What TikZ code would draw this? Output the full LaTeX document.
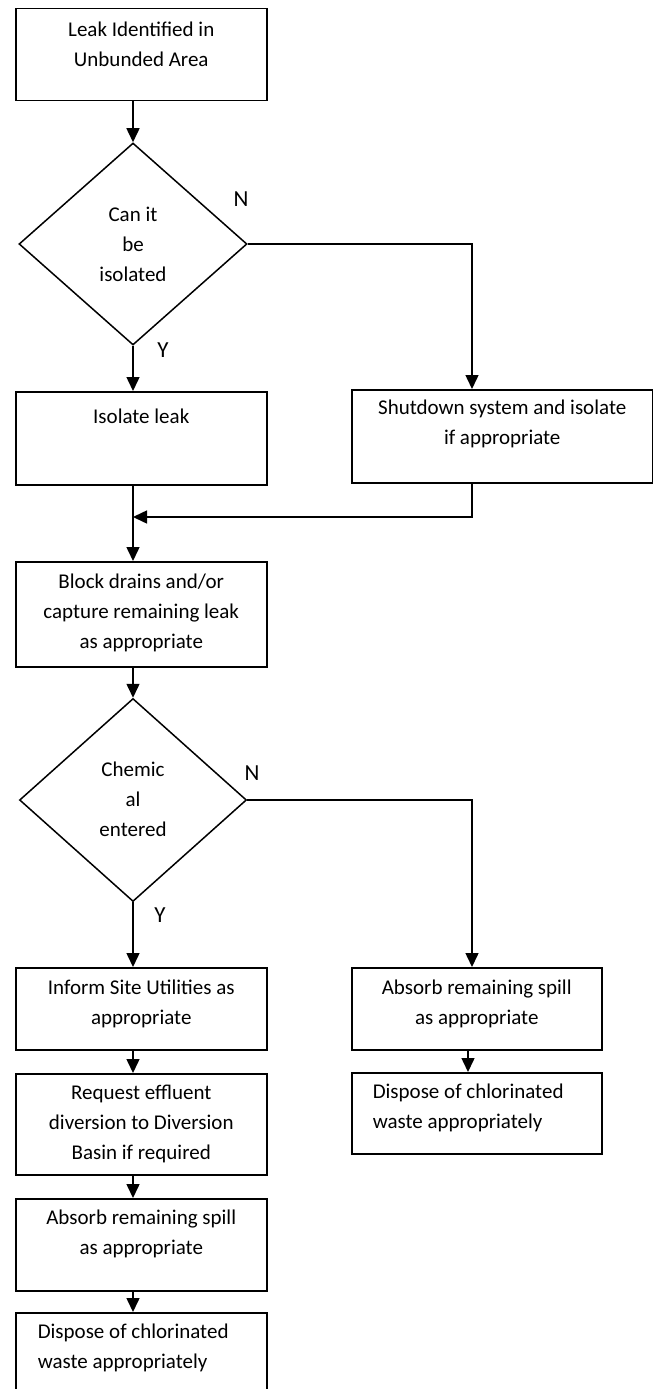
\documentclass[tikz,border=0pt]{standalone}
\usepackage{fontspec}
\setmainfont{Carlito}
\usetikzlibrary{arrows.meta,shapes.geometric}

\begin{document}
\begin{tikzpicture}[x=1bp,y=-1bp,
  line width=1.5bp,
  box/.style={draw, rectangle, inner sep=0pt, minimum width=251bp, anchor=north west},
  decision/.style={draw, diamond, inner sep=0pt},
  txt/.style={inner sep=0pt, align=center, anchor=north,
    font=\fontsize{21bp}{30bp}\selectfont, execute at begin node=\strut},
  ltxt/.style={txt, align=left, anchor=north west},
  yn/.style={inner sep=0pt, font=\fontsize{23bp}{28bp}\selectfont},
  arr/.style={-{Triangle[width=13bp,length=14bp]}},
]
\clip (0,0) rectangle (653,1389);

% column positions and junction
\coordinate (rcol) at (472,0);
\coordinate (rcolb) at (468,0);
\coordinate (merge) at (133,517);

% first stage
\node[box, minimum height=92bp] (b1) at (15,8) {};
\node[txt] (t1) at ([yshift=-13bp]b1.north) {Leak Identified in\\Unbunded Area};

\node[decision, minimum width=228bp, minimum height=202bp] (d1) at (133,244) {};
\node[txt] (t2) at ([yshift=38bp]d1.center) {Can it\\be\\isolated};
\node[yn] (n1) at (241,199) {N};
\node[yn] (y1) at (163,350) {Y};

\node[box, minimum height=93bp] (b2) at (15,391) {};
\node[txt] (t3) at ([yshift=-11bp]b2.north) {Isolate leak};

\node[box, minimum width=301bp, minimum height=93bp] (b3) at (351,389) {};
\node[txt] (t4) at ([yshift=-10bp]b3.north) {Shutdown system and isolate\\if appropriate};

\node[box, minimum height=105bp] (b4) at (15,561) {};
\node[txt] (t5) at ([yshift=-12bp]b4.north) {Block drains and/or\\capture remaining leak\\as appropriate};

% second decision
\node[decision, minimum width=227bp, minimum height=203bp] (d2) at (133,800) {};
\node[txt] (t6) at ([yshift=39bp]d2.center) {Chemic\\al\\entered};
\node[yn] (n2) at (252,773) {N};
\node[yn] (y2) at (160,915) {Y};

% left column
\node[box, minimum height=82bp] (b5) at (15,967) {};
\node[txt] (t7) at ([yshift=-12bp]b5.north) {Inform Site Utilities as\\appropriate};

\node[box, minimum height=101bp] (b6) at (15,1073) {};
\node[txt] (t8) at ([yshift=-11bp]b6.north) {Request effluent\\diversion to Diversion\\Basin if required};

\node[box, minimum height=92bp] (b7) at (15,1198) {};
\node[txt] (t9) at ([yshift=-11bp]b7.north) {Absorb remaining spill\\as appropriate};

\node[box, minimum height=100bp] (b8) at (15,1312) {};
\node[ltxt] (t10) at ([xshift=22bp,yshift=-11bp]b8.north west) {Dispose of chlorinated\\waste appropriately};

% right column
\node[box, minimum width=250bp, minimum height=82bp] (r1) at (351,967) {};
\node[txt] (t11) at ([yshift=-12bp]r1.north) {Absorb remaining spill\\as appropriate};

\node[box, minimum width=250bp, minimum height=81bp] (r2) at (351,1072) {};
\node[ltxt] (t12) at ([xshift=21bp,yshift=-11bp]r2.north west) {Dispose of chlorinated\\waste appropriately};

% connectors
\draw[arr] (b1.south -| d1.north) -- (d1.north);
\draw[arr] (d1.south) -- (d1.south |- b2.north);
\draw[arr] (d1.east) -| (rcol |- b3.north);
\draw[arr] (b2.south -| d1.south) -- (b4.north -| d1.south);
\draw[arr] (rcol |- b3.south) |- (merge);
\draw[arr] (b4.south -| d2.north) -- (d2.north);
\draw[arr] (d2.south) -- (d2.south |- b5.north);
\draw[arr] (d2.east) -| (rcol |- r1.north);
\draw[arr] (rcolb |- r1.south) -- (rcolb |- r2.north);
\draw[arr] (b5.south -| d2.south) -- (b6.north -| d2.south);
\draw[arr] (b6.south -| d2.south) -- (b7.north -| d2.south);
\draw[arr] (b7.south -| d2.south) -- (b8.north -| d2.south);
\end{tikzpicture}
\end{document}
